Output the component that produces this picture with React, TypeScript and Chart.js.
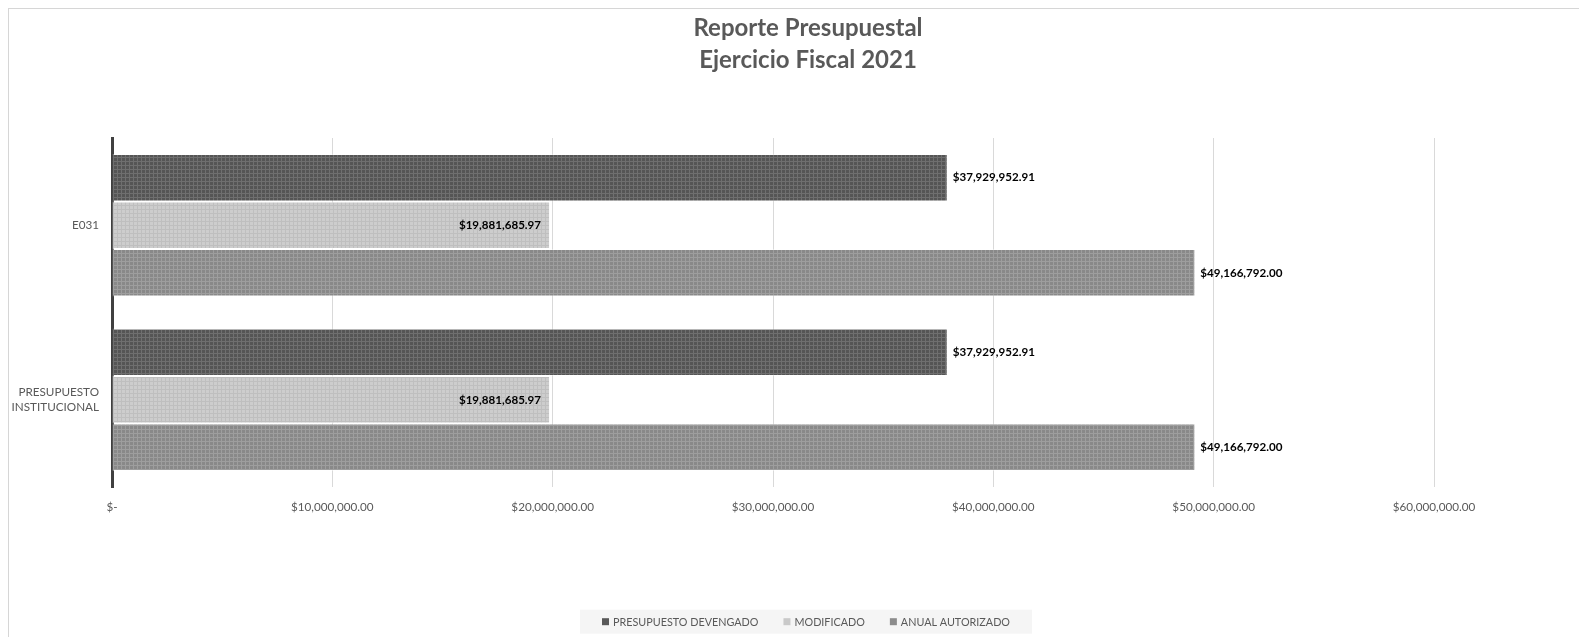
import React, { useEffect, useRef } from 'react';
import { Chart, registerables } from 'chart.js';

Chart.register(...registerables);

const titleLines = ['Reporte Presupuestal', 'Ejercicio Fiscal 2021'];
const categories = ['E031', ['PRESUPUESTO', 'INSTITUCIONAL']];
const seriesNames = ['PRESUPUESTO DEVENGADO', 'MODIFICADO', 'ANUAL AUTORIZADO'];
const devengado = [37929952.91, 37929952.91];
const modificado = [19881685.97, 19881685.97];
const anualAutorizado = [49166792.0, 49166792.0];
const xMin = 0;
const xMax = 60000000;
const xStep = 10000000;

const FONT = 'Lato, "Open Sans", sans-serif';

const money = (v: number) =>
  v === 0
    ? '$-'
    : '$' + v.toLocaleString('en-US', { minimumFractionDigits: 2, maximumFractionDigits: 2 });

function makePattern(ctx: CanvasRenderingContext2D, base: string, line: string) {
  const c = document.createElement('canvas');
  c.width = 4;
  c.height = 4;
  const g = c.getContext('2d')!;
  g.fillStyle = base;
  g.fillRect(0, 0, 4, 4);
  g.fillStyle = line;
  g.fillRect(0, 0, 4, 1);
  g.fillRect(0, 0, 1, 4);
  return ctx.createPattern(c, 'repeat')!;
}

const swatch = ['#595959', '#c9c9c9', '#8c8c8c'];

const dataLabelPlugin = {
  id: 'dataLabels',
  afterDatasetsDraw(chart: any) {
    const ctx = chart.ctx;
    ctx.save();
    ctx.font = `bold 11.6px ${FONT}`;
    ctx.fillStyle = '#000000';
    ctx.textBaseline = 'middle';
    chart.data.datasets.forEach((ds: any, di: number) => {
      const meta = chart.getDatasetMeta(di);
      meta.data.forEach((el: any, i: number) => {
        const txt = money(ds.data[i]);
        if (di === 1) {
          ctx.textAlign = 'right';
          ctx.fillText(txt, el.x - 9, el.y);
        } else {
          ctx.textAlign = 'left';
          ctx.fillText(txt, el.x + 5, el.y);
        }
      });
    });
    ctx.restore();
  },
};

const legendPlugin = {
  id: 'customLegend',
  afterDraw(chart: any) {
    const ctx = chart.ctx;
    ctx.save();
    ctx.font = `10.8px ${FONT}`;
    const box = 7;
    const gapBoxText = 4;
    const gapItems = 25;
    const widths = seriesNames.map((n) => ctx.measureText(n).width);
    const total =
      widths.reduce((a, b) => a + b, 0) + seriesNames.length * (box + gapBoxText) + gapItems * (seriesNames.length - 1);
    const cx = 797;
    const cy = 612.7;
    ctx.fillStyle = '#f5f5f5';
    ctx.fillRect(571, cy - 12, 452, 24);
    let x = cx - total / 2;
    ctx.textBaseline = 'middle';
    ctx.textAlign = 'left';
    seriesNames.forEach((n, i) => {
      ctx.fillStyle = swatch[i];
      ctx.fillRect(x, cy - box / 2, box, box);
      x += box + gapBoxText;
      ctx.fillStyle = '#595959';
      ctx.fillText(n, x, cy + 0.5);
      x += widths[i] + gapItems;
    });
    ctx.restore();
  },
};

export default function App() {
  const ref = useRef<HTMLCanvasElement | null>(null);

  useEffect(() => {
    const canvas = ref.current!;
    const ctx = canvas.getContext('2d')!;
    const patDark = makePattern(ctx, '#555555', '#6f6f6f');
    const patLight = makePattern(ctx, '#cdcdcd', '#bfbfbf');
    const patMid = makePattern(ctx, '#898989', '#9e9e9e');

    const chart = new Chart(canvas, {
      type: 'bar',
      data: {
        labels: categories as any,
        datasets: [
          { label: seriesNames[0], data: devengado, backgroundColor: patDark, borderColor: 'rgba(255,255,255,0.35)', borderWidth: 1 },
          { label: seriesNames[1], data: modificado, backgroundColor: patLight, borderColor: 'rgba(255,255,255,0.7)', borderWidth: 1 },
          { label: seriesNames[2], data: anualAutorizado, backgroundColor: patMid, borderColor: 'rgba(255,255,255,0.4)', borderWidth: 1 },
        ],
      },
      options: {
        indexAxis: 'y',
        animation: false,
        responsive: true,
        maintainAspectRatio: false,
        layout: { padding: { left: 0, right: -28, top: 0, bottom: 110 } },
        datasets: { bar: { categoryPercentage: 0.817, barPercentage: 1 } },
        plugins: {
          legend: { display: false },
          tooltip: { enabled: false },
          title: {
            display: true,
            text: titleLines,
            color: '#595959',
            font: { family: FONT, size: 24, weight: 'bold', lineHeight: 32 / 24 },
            padding: { top: 3, bottom: 62 },
          },
        },
        scales: {
          x: {
            type: 'linear',
            min: xMin,
            max: xMax,
            ticks: {
              stepSize: xStep,
              color: '#595959',
              font: { family: FONT, size: 11.7 },
              padding: 13,
              callback: (v: any) => money(Number(v)),
            },
            grid: { color: '#d9d9d9', lineWidth: 1, drawTicks: false },
            border: { display: false },
            afterFit: (s: any) => {
              s.height = 40;
            },
          },
          y: {
            ticks: { color: '#595959', font: { family: FONT, size: 11.7, lineHeight: 1.3 }, padding: 13 },
            grid: { display: false, drawTicks: false },
            border: { display: true, color: '#404040', width: 3 },
            afterFit: (s: any) => {
              s.width = 103;
            },
          },
          spacerRight: {
            type: 'category',
            position: 'right',
            display: true,
            ticks: { display: false },
            grid: { display: false, drawTicks: false },
            border: { display: false },
            afterFit: (s: any) => {
              s.width = 173;
            },
          },
        },
      },
      plugins: [dataLabelPlugin, legendPlugin],
    });
    return () => chart.destroy();
  }, []);

  return (
    <>
      <style>{'html,body{overflow:hidden}'}</style>
      <div
        style={{
          width: 'calc(100vw - 16px)',
          height: 'calc(100vh - 8px)',
          borderTop: '1px solid #d6d6d6',
          borderLeft: '1px solid #d6d6d6',
          boxSizing: 'border-box',
          background: '#ffffff',
          display: 'flex',
        }}
      >
        <div style={{ position: 'relative', flex: '1 1 auto', minWidth: 0 }}>
          <canvas ref={ref} />
        </div>
      </div>
    </>
  );
}
